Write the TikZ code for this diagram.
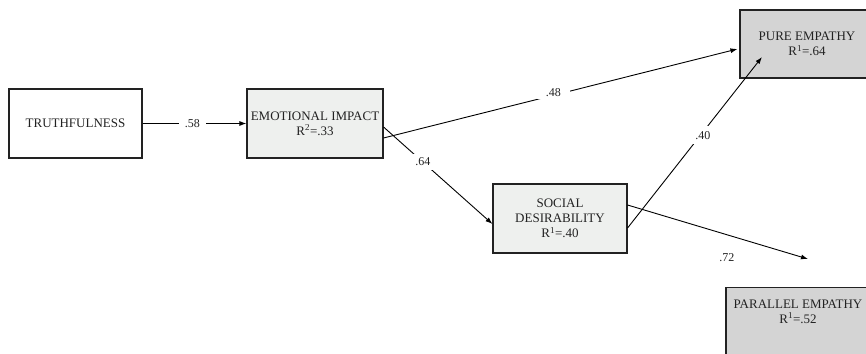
\documentclass[tikz,border=0pt]{standalone}
\usepackage{fontspec}
\setmainfont{Liberation Serif}
\usetikzlibrary{arrows.meta}
\definecolor{boxlight}{HTML}{EEF0EE}
\definecolor{boxdark}{HTML}{D4D4D4}
\definecolor{ink}{HTML}{222222}
\begin{document}
\begin{tikzpicture}[x=1pt,y=-1pt,
  box/.style={draw=ink, line width=1.1pt, minimum height=69pt, inner sep=0pt,
    align=center, text=ink, font=\fontsize{13}{15}\selectfont},
  txt/.style={align=center, text=ink, font=\fontsize{13}{15}\selectfont},
  arr/.style={draw=black, line width=0.9pt, -{Latex[length=7pt,width=5pt]}},
  lbl/.style={fill=white, inner xsep=6pt, inner ysep=3pt, text=ink,
    font=\fontsize{12}{14}\selectfont}
]
\useasboundingbox (0,0) rectangle (866,353);
\clip (0,0) rectangle (866,353);

% variables
\node[box, fill=white, minimum width=133pt] (truth) at (75.5,123.5) {TRUTHFULNESS};
\node[box, fill=boxlight, minimum width=136pt] (emo) at (315,123.5)
  {EMOTIONAL IMPACT\\R\textsuperscript{2}=.33};
\node[box, fill=boxlight, minimum width=134pt] (soc) at (560,218.5)
  {SOCIAL\\DESIRABILITY\\R\textsuperscript{1}=.40};
\node[box, fill=boxdark, minimum width=134pt, minimum height=68pt] (pure) at (807,44)
  {PURE EMPATHY\\R\textsuperscript{1}=.64};
\node[box, fill=boxdark, minimum width=144pt, minimum height=80pt, anchor=north] (par) at (798,287) {};
\node[txt] (partext) at (798,311.5) {PARALLEL EMPATHY\\R\textsuperscript{1}=.52};

% paths
\coordinate (tip) at (808,259);
\draw[arr] (truth.east) -- node[lbl, pos=0.48] {.58} (emo.west);
\draw[arr] ([yshift=-14.5pt]emo.east) -- node[lbl, pos=0.48, yshift=3pt, inner xsep=9pt] {.48}
  ([xshift=-2pt,yshift=-5pt]pure.west);
\draw[arr] ([yshift=-3.5pt]emo.east) -- node[lbl, pos=0.36, inner xsep=4pt, inner ysep=4pt] {.64}
  ([yshift=-5.5pt]soc.west);
\draw[arr] ([yshift=-9.5pt]soc.east) -- node[lbl, pos=0.56, yshift=-3pt, inner xsep=3pt, inner ysep=5pt] {.40}
  ([xshift=-45pt,yshift=-13pt]pure.center);
\draw[arr] ([yshift=13.5pt]soc.east) -- node[pos=0.55, yshift=-23pt, text=ink,
  font=\fontsize{12}{14}\selectfont] {.72} (tip);
\end{tikzpicture}
\end{document}
